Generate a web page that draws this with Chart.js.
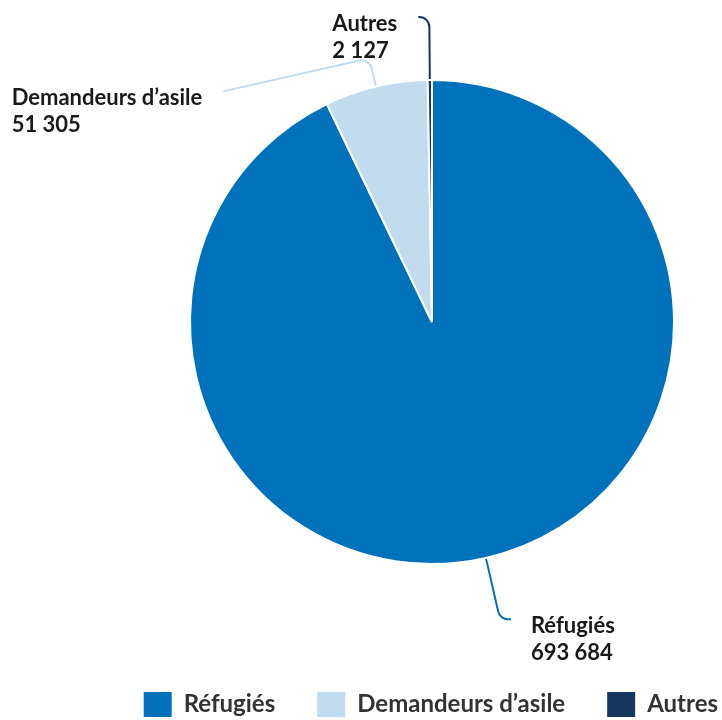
<!DOCTYPE html>
<html>
<head>
<meta charset="utf-8">
<script src="https://cdn.jsdelivr.net/npm/chart.js@4"></script>
<style>
  html, body { margin: 0; padding: 0; background: #fff; }
  #wrap { width: 722px; height: 720px; position: relative; }
</style>
</head>
<body>
<div id="wrap"><canvas id="pieChart"></canvas></div>
<script>
const categories = ["Réfugiés", "Demandeurs d’asile", "Autres"];
const values = [693684, 51305, 2127];
const colors = ["#0072BC", "#C0DCEE", "#18375F"];

// leader lines: extra radial length to the elbow, then offset to the line end
const elbowLength = [62, 28, 62];
const lineEnd = [[11, 0], [-146, 33], [-11, 0]];

const fmt = (n) => String(n).replace(/\B(?=(\d{3})+(?!\d))/g, " ");

const leaderLabels = {
  id: "leaderLabels",
  afterDatasetsDraw(chart) {
    const ctx = chart.ctx;
    const meta = chart.getDatasetMeta(0);
    ctx.save();
    ctx.font = "bold 22px Lato";
    meta.data.forEach((arc, i) => {
      const { x, y, startAngle, endAngle, outerRadius } = arc.getProps(
        ["x", "y", "startAngle", "endAngle", "outerRadius"], true);
      const mid = (startAngle + endAngle) / 2;
      const c = Math.cos(mid), s = Math.sin(mid);
      const r = outerRadius + 1;
      const p0 = { x: x + c * r, y: y + s * r };
      const p1 = { x: x + c * (r + elbowLength[i]), y: y + s * (r + elbowLength[i]) };
      const p2 = { x: p1.x + lineEnd[i][0], y: p1.y + lineEnd[i][1] };

      ctx.strokeStyle = colors[i];
      ctx.lineWidth = 2;
      ctx.beginPath();
      ctx.moveTo(p0.x, p0.y);
      ctx.arcTo(p1.x, p1.y, p2.x, p2.y, 10);
      ctx.lineTo(p2.x, p2.y);
      ctx.stroke();

      const lines = [categories[i], fmt(values[i])];
      const w = Math.max(...lines.map((t) => ctx.measureText(t).width));
      const tx = p2.x < p1.x ? p2.x - 21 - w : p2.x + 20;
      ctx.fillStyle = "#1a1a1a";
      ctx.textAlign = "left";
      ctx.textBaseline = "alphabetic";
      lines.forEach((t, k) => ctx.fillText(t, tx, p2.y + 14 + k * 27));
    });
    ctx.restore();
  }
};

new Chart(document.getElementById("pieChart"), {
  type: "pie",
  data: {
    labels: categories,
    datasets: [
      {
        data: values,
        backgroundColor: colors,
        borderColor: "#fff",
        borderWidth: 2,
      },
    ],
  },
  options: {
    responsive: true,
    maintainAspectRatio: false,
    animation: false,
    layout: {
      padding: { top: 79, left: 60, right: -38, bottom: -7 }
    },
    plugins: {
      tooltip: { enabled: false },
      // empty title on the left only used as a spacer to centre the pie
      title: {
        display: true,
        position: "left",
        text: "",
        font: { size: 10, lineHeight: 1 },
        padding: { top: 72, bottom: 0 }
      },
      legend: {
        position: "bottom",
        align: "end",
        title: {
          display: true,
          text: "",
          font: { size: 10, lineHeight: 1 },
          padding: { top: 75, bottom: 0 }
        },
        labels: {
          boxWidth: 28,
          boxHeight: 25,
          padding: 42,
          color: "#333",
          font: { family: "Lato", size: 24, weight: "bold" },
          generateLabels: (chart) =>
            Chart.overrides.doughnut.plugins.legend.labels
              .generateLabels(chart)
              .map((l) => ({ ...l, lineWidth: 0 }))
        }
      }
    }
  },
  plugins: [leaderLabels]
});
</script>
</body>
</html>
